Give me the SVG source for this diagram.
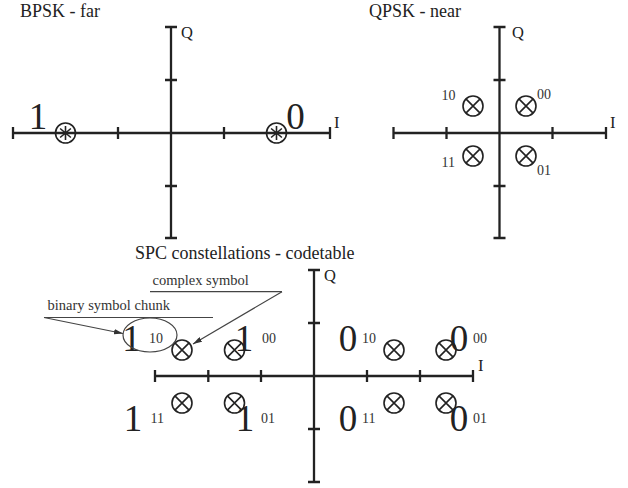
<svg xmlns="http://www.w3.org/2000/svg" xmlns:xlink="http://www.w3.org/1999/xlink" width="628" height="488" viewBox="0 0 628 488" font-family="'Liberation Serif', 'Times New Roman', 'DejaVu Serif', serif">
<style>
  .ax { stroke: #222; stroke-width: 2.3; fill: none; }
  .sym { stroke: #222; stroke-width: 1.6; fill: none; }
  .ann { stroke: #444; stroke-width: 1.2; fill: none; }
  .t { font-family: 'Liberation Serif', 'Times New Roman', 'DejaVu Serif', serif; fill: #222; }
  .title { font-size: 18px; }
  .axl { font-size: 16.5px; }
  .big { font-size: 37px; }
  .sm { font-size: 14px; fill: #333; }
  .an { font-size: 14.5px; fill: #333; }
</style>
<defs>
  <g id="xs">
    <circle r="10" class="sym"/>
    <path class="sym" d="M-7.1,-7.1L7.1,7.1M-7.1,7.1L7.1,-7.1"/>
  </g>
  <g id="ast">
    <circle r="10" class="sym"/>
    <path class="sym" d="M0,-7L0,7M-5.4,-4.5L5.4,4.5M-5.4,4.5L5.4,-4.5"/>
  </g>
  <marker id="ah" viewBox="0 0 10 6" refX="10" refY="3" markerWidth="9" markerHeight="5.4" markerUnits="userSpaceOnUse" orient="auto">
    <path d="M0,0L10,3L0,6Z" fill="#333"/>
  </marker>
</defs>

<g id="bpsk">
  <text class="t title" x="20" y="17">BPSK - far</text>
  <path class="ax" d="M13,133H330M13,127V139M330,127V139M118,127V139M224,127V139M171,27V238M165,27H177M165,238H177M165,80H177M165,186H177"/>
  <text class="t axl" x="181" y="38">Q</text>
  <text class="t axl" x="334" y="128">I</text>
  <g id="bpsk-1"><use xlink:href="#ast" x="65.5" y="133"/><text class="t big" x="38" y="129" text-anchor="middle">1</text></g>
  <g id="bpsk-0"><use xlink:href="#ast" x="276.5" y="133"/><text class="t big" x="295.5" y="129" text-anchor="middle">0</text></g>
</g>

<g id="qpsk">
  <text class="t title" x="369" y="17">QPSK - near</text>
  <path class="ax" d="M393.5,133H606M393.5,127V139M606,127V139M446.5,127V139M552.5,127V139M499.5,27V238M493.5,27H505.5M493.5,238H505.5M493.5,80H505.5M493.5,186H505.5"/>
  <text class="t axl" x="512" y="38">Q</text>
  <text class="t axl" x="610" y="128">I</text>
  <g id="qpsk-10"><use xlink:href="#xs" x="473" y="106"/><text class="t sm" x="441.5" y="100">10</text></g>
  <g id="qpsk-00"><use xlink:href="#xs" x="526" y="106"/><text class="t sm" x="537" y="99">00</text></g>
  <g id="qpsk-11"><use xlink:href="#xs" x="473" y="156"/><text class="t sm" x="441.5" y="167">11</text></g>
  <g id="qpsk-01"><use xlink:href="#xs" x="526" y="156"/><text class="t sm" x="537" y="175">01</text></g>
</g>

<g id="spc">
  <text class="t title" x="135" y="259">SPC constellations - codetable</text>
  <path class="ax" d="M155,376H473M155,370V382M473,370V382M208.3,370V382M261,370V382M367,370V382M420,370V382M314,270V482M308,270H320M308,482H320M308,323H320M308,429H320"/>
  <text class="t axl" x="324" y="281">Q</text>
  <text class="t axl" x="478" y="371">I</text>
  <g id="spc-1-10"><use xlink:href="#xs" x="182" y="350"/><text class="t big" x="131.5" y="350.5" text-anchor="middle">1</text><text class="t sm" x="149" y="343">10</text></g>
  <g id="spc-1-00"><use xlink:href="#xs" x="234.5" y="350"/><text class="t big" x="244" y="350.5" text-anchor="middle">1</text><text class="t sm" x="262" y="343">00</text></g>
  <g id="spc-1-11"><use xlink:href="#xs" x="182" y="403"/><text class="t big" x="133" y="431" text-anchor="middle">1</text><text class="t sm" x="150.5" y="423.3">11</text></g>
  <g id="spc-1-01"><use xlink:href="#xs" x="234.5" y="403"/><text class="t big" x="245" y="431" text-anchor="middle">1</text><text class="t sm" x="261" y="423.3">01</text></g>
  <g id="spc-0-10"><use xlink:href="#xs" x="394" y="350"/><text class="t big" x="348" y="350.5" text-anchor="middle">0</text><text class="t sm" x="362" y="343">10</text></g>
  <g id="spc-0-00"><use xlink:href="#xs" x="446" y="350"/><text class="t big" x="459" y="350.5" text-anchor="middle">0</text><text class="t sm" x="473" y="343">00</text></g>
  <g id="spc-0-11"><use xlink:href="#xs" x="394" y="403"/><text class="t big" x="348" y="431" text-anchor="middle">0</text><text class="t sm" x="362" y="423.3">11</text></g>
  <g id="spc-0-01"><use xlink:href="#xs" x="446" y="403"/><text class="t big" x="459" y="431" text-anchor="middle">0</text><text class="t sm" x="473" y="423.3">01</text></g>
  <ellipse id="chunk-ellipse" class="ann" cx="150" cy="335" rx="27" ry="17"/>
  <text class="t an" x="152.5" y="285">complex symbol</text>
  <text class="t an" x="47.5" y="310">binary symbol chunk</text>
</g>

<g id="connectors">
  <path class="ann" d="M150,291.7H282"/>
  <path class="ann" d="M282,291.7L193,344" marker-end="url(#ah)"/>
  <path class="ann" d="M44,317.5H213"/>
  <path class="ann" d="M44,317.5L123,333.5" marker-end="url(#ah)"/>
</g>
</svg>
